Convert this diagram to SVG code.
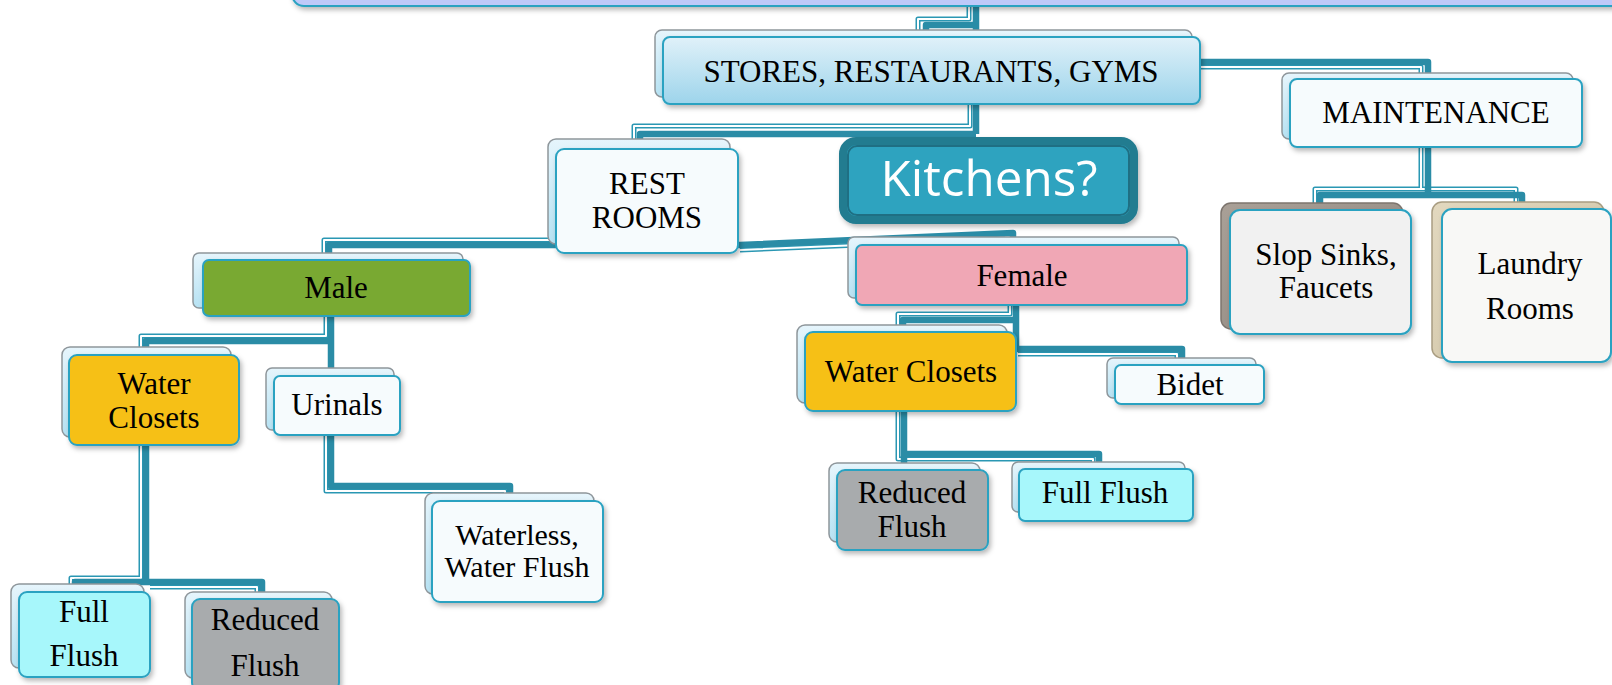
<svg xmlns="http://www.w3.org/2000/svg" width="1612" height="685" viewBox="0 0 1612 685">
<defs>
<style>
.t{font-family:"Liberation Serif","Times New Roman",serif;font-size:31px;fill:#000;text-anchor:middle;}
.back{fill:url(#gBack);stroke:#8e969b;stroke-width:1.5;}
.front{stroke:#2ca2c1;stroke-width:2;filter:url(#sh);}
.thick{fill:none;stroke:#2a8ca6;stroke-width:6.5;stroke-linejoin:round;stroke-linecap:butt;}
.ol{fill:none;stroke:#2a97b3;stroke-width:5;stroke-linejoin:round;}
.olw{fill:none;stroke:#ffffff;stroke-width:2;stroke-linejoin:round;}
.white{fill:#f6fbfd;}
.ff{fill:#a7f7fb;}
.rf{fill:#a8abad;}
.wc{fill:#f6c018;}
</style>
<linearGradient id="gBack" x1="0" y1="0" x2="0" y2="1">
<stop offset="0" stop-color="#e6f5fc"/>
<stop offset="1" stop-color="#b6e2f3"/>
</linearGradient>
<linearGradient id="gStores" x1="0" y1="0" x2="0" y2="1">
<stop offset="0" stop-color="#e0f1f9"/>
<stop offset="1" stop-color="#9dd4eb"/>
</linearGradient>
<linearGradient id="gStone" x1="0" y1="0" x2="1" y2="1">
<stop offset="0" stop-color="#a9a097"/>
<stop offset="1" stop-color="#8f877f"/>
</linearGradient>
<linearGradient id="gBeige" x1="0" y1="0" x2="1" y2="1">
<stop offset="0" stop-color="#e2d8bf"/>
<stop offset="1" stop-color="#cfc3a5"/>
</linearGradient>
<filter id="sh" x="-10%" y="-10%" width="125%" height="135%">
<feDropShadow dx="2" dy="3" stdDeviation="2.5" flood-color="#000" flood-opacity="0.28"/>
</filter>
</defs>

<g id="connectors">
<path class="ol" d="M969,0 V19 H918 V32"/>
<path class="olw" d="M969,0 V19 H918 V32"/>
<path class="ol" d="M970,104 V126 H634 V142"/>
<path class="olw" d="M970,104 V126 H634 V142"/>
<path class="ol" d="M1200,67 H1421 V75"/>
<path class="olw" d="M1200,67 H1421 V75"/>
<path class="ol" d="M1421,147 V189 H1315 V205 M1421,189 H1516 V205"/>
<path class="olw" d="M1421,147 V189 H1315 V205 M1421,189 H1516 V205"/>
<path class="ol" d="M324,256 V240 H560 M740,250 L1005,239"/>
<path class="olw" d="M324,256 V240 H560 M740,250 L1005,239"/>
<path class="ol" d="M326,316 V336 H141 V349 M326,420 V491 H505 V497"/>
<path class="olw" d="M326,316 V336 H141 V349 M326,420 V491 H505 V497"/>
<path class="ol" d="M141,445 V578 H71 V590 M150,587 H257 V595"/>
<path class="olw" d="M141,445 V578 H71 V590 M150,587 H257 V595"/>
<path class="ol" d="M1010,305 V314 H898 V327 M1018,354 H1177 V360"/>
<path class="olw" d="M1010,305 V314 H898 V327 M1018,354 H1177 V360"/>
<path class="ol" d="M898,411 V459 H1093 V468"/>
<path class="olw" d="M898,411 V459 H1093 V468"/>

<path class="thick" d="M976,0 V134 M976,25 H926 V32"/>
<path class="thick" d="M976,134 H640 V142"/>
<path class="thick" d="M1200,62 H1428 V75"/>
<path class="thick" d="M1428,147 V195 H1320 V205 M1428,195 H1522 V205"/>
<path class="thick" d="M329,256 V245 H740 L1013,233 V239"/>
<path class="thick" d="M331,316 V486 H510 V497 M331,341 H146 V349"/>
<path class="thick" d="M146,445 V582 H75 V590 M146,582 H262 V595"/>
<path class="thick" d="M1016,305 V349 H1182 V360 M1016,320 H903 V327"/>
<path class="thick" d="M904,411 V470 M904,454 H1099 V468"/>
</g>

<g id="top-bar">
<rect x="292" y="-40" width="1400" height="46" rx="12" fill="#bec9f9" stroke="#2ca2c1" stroke-width="2" filter="url(#sh)"/>
</g>

<g id="stores">
<rect class="back" x="655" y="30" width="537" height="67" rx="7"/>
<rect class="front" x="663" y="37" width="537" height="67" rx="7" fill="url(#gStores)"/>
<text class="t" x="931" y="82">STORES, RESTAURANTS, GYMS</text>
</g>

<g id="maintenance">
<rect class="back" x="1282" y="73" width="291" height="66" rx="7"/>
<rect class="front white" x="1290" y="79" width="292" height="68" rx="7"/>
<text class="t" x="1436" y="123">MAINTENANCE</text>
</g>

<g id="restrooms">
<rect class="back" x="548" y="139" width="182" height="105" rx="8"/>
<rect class="front white" x="556" y="149" width="182" height="104" rx="8"/>
<text class="t" x="647" y="194">REST</text>
<text class="t" x="647" y="228">ROOMS</text>
</g>

<g id="kitchens">
<rect x="843" y="141" width="291" height="79" rx="13" fill="#2ea3bf" stroke="#237b90" stroke-width="8" filter="url(#sh)"/>
<rect x="848" y="146" width="281" height="69" rx="9" fill="none" stroke="#1f6f83" stroke-width="2"/>
<text x="989" y="196" font-family="'Open Sans','Noto Sans',sans-serif" font-size="50" fill="#ffffff" text-anchor="middle" textLength="217" lengthAdjust="spacingAndGlyphs">Kitchens?</text>
</g>

<g id="male">
<rect class="back" x="193" y="253" width="270" height="55" rx="6"/>
<rect class="front" x="203" y="260" width="267" height="56" rx="6" fill="#79a931"/>
<text class="t" x="336" y="298">Male</text>
</g>

<g id="female">
<rect class="back" x="848" y="237" width="331" height="61" rx="6"/>
<rect class="front" x="856" y="245" width="331" height="60" rx="6" fill="#f0a7b5"/>
<text class="t" x="1022" y="286">Female</text>
</g>

<g id="water-closets-male">
<rect class="back" x="62" y="347" width="169" height="90" rx="8"/>
<rect class="front wc" x="69" y="355" width="170" height="90" rx="8"/>
<text class="t" x="154" y="394">Water</text>
<text class="t" x="154" y="428">Closets</text>
</g>

<g id="urinals">
<rect class="back" x="266" y="368" width="128" height="62" rx="6"/>
<rect class="front white" x="274" y="376" width="126" height="59" rx="6"/>
<text class="t" x="337" y="415">Urinals</text>
</g>

<g id="waterless">
<rect class="back" x="425" y="493" width="169" height="101" rx="8"/>
<rect class="front white" x="432" y="501" width="171" height="101" rx="8"/>
<text class="t" x="517" y="545" style="font-size:30px">Waterless,</text>
<text class="t" x="517" y="577" style="font-size:30px">Water Flush</text>
</g>

<g id="full-flush-male">
<rect class="back" x="11" y="584" width="133" height="84" rx="8"/>
<rect class="front ff" x="19" y="592" width="131" height="85" rx="8"/>
<text class="t" x="84" y="622">Full</text>
<text class="t" x="84" y="666">Flush</text>
</g>

<g id="reduced-flush-male">
<rect class="back" x="185" y="592" width="147" height="86" rx="8"/>
<rect class="front rf" x="192" y="599" width="147" height="92" rx="8"/>
<text class="t" x="265" y="630">Reduced</text>
<text class="t" x="265" y="676">Flush</text>
</g>

<g id="water-closets-female">
<rect class="back" x="797" y="325" width="210" height="78" rx="8"/>
<rect class="front wc" x="805" y="332" width="211" height="79" rx="8"/>
<text class="t" x="911" y="382">Water Closets</text>
</g>

<g id="bidet">
<rect class="back" x="1107" y="358" width="149" height="40" rx="6"/>
<rect class="front white" x="1115" y="365" width="149" height="39" rx="6"/>
<text class="t" x="1190" y="395">Bidet</text>
</g>

<g id="reduced-flush-female">
<rect class="back" x="829" y="463" width="151" height="79" rx="8"/>
<rect class="front rf" x="837" y="470" width="151" height="80" rx="8"/>
<text class="t" x="912" y="503">Reduced</text>
<text class="t" x="912" y="537">Flush</text>
</g>

<g id="full-flush-female">
<rect class="back" x="1012" y="462" width="173" height="50" rx="6"/>
<rect class="front ff" x="1019" y="469" width="174" height="52" rx="6"/>
<text class="t" x="1105" y="503">Full Flush</text>
</g>

<g id="slop-sinks">
<rect x="1221" y="203" width="182" height="126" rx="10" fill="url(#gStone)" stroke="#7d756e" stroke-width="1.5"/>
<rect class="front" x="1230" y="210" width="181" height="124" rx="10" fill="#f1f1f1"/>
<text class="t" x="1326" y="265">Slop Sinks,</text>
<text class="t" x="1326" y="298">Faucets</text>
</g>

<g id="laundry-rooms">
<rect x="1432" y="202" width="172" height="156" rx="10" fill="url(#gBeige)" stroke="#a99d82" stroke-width="1.5"/>
<rect class="front" x="1442" y="209" width="169" height="153" rx="10" fill="#f8f8f6"/>
<text class="t" x="1530" y="274">Laundry</text>
<text class="t" x="1530" y="319">Rooms</text>
</g>
</svg>
